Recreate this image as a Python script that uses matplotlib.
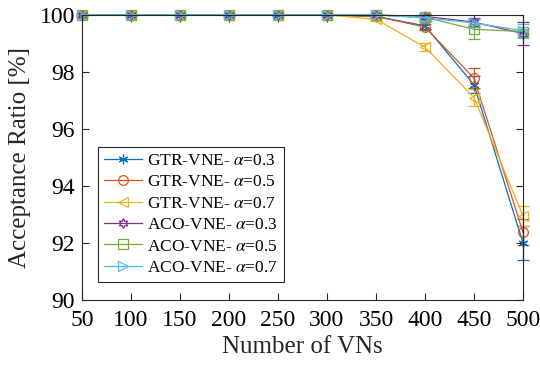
import matplotlib.pyplot as plt
from matplotlib.lines import Line2D
import numpy as np

plt.rcParams['font.family'] = ['Liberation Serif', 'DejaVu Serif']
plt.rcParams['mathtext.fontset'] = 'stix'

vns = [50, 100, 150, 200, 250, 300, 350, 400, 450, 500]

gtr_03 = [100, 100, 100, 100, 100, 100, 99.95, 99.62, 97.55, 92.0]
gtr_05 = [100, 100, 100, 100, 100, 100, 99.95, 99.58, 97.78, 92.38]
gtr_07 = [100, 100, 100, 100, 100, 100, 99.85, 98.87, 97.1, 92.95]
aco_03 = [100, 100, 100, 100, 100, 100, 100, 99.95, 99.75, 99.35]
aco_05 = [100, 100, 100, 100, 100, 100, 100, 99.92, 99.5, 99.42]
aco_07 = [100, 100, 100, 100, 100, 100, 100, 99.9, 99.72, 99.45]

gtr_03_err = [0, 0, 0, 0, 0, 0, 0.03, 0.12, 0.3, 0.6]
gtr_05_err = [0, 0, 0, 0, 0, 0, 0.03, 0.12, 0.35, 0.45]
gtr_07_err = [0, 0, 0, 0, 0, 0, 0.05, 0.15, 0.3, 0.35]
aco_03_err = [0, 0, 0, 0, 0, 0, 0.02, 0.1, 0.15, 0.4]
aco_05_err = [0, 0, 0, 0, 0, 0, 0.02, 0.1, 0.35, 0.1]
aco_07_err = [0, 0, 0, 0, 0, 0, 0.02, 0.1, 0.15, 0.25]

series = [
    (gtr_03, gtr_03_err, '#0072BD', (6, 2, 0), r'GTR-VNE- $\alpha$=0.3'),
    (gtr_05, gtr_05_err, '#D95319', 'o', r'GTR-VNE- $\alpha$=0.5'),
    (gtr_07, gtr_07_err, '#EDB120', '<', r'GTR-VNE- $\alpha$=0.7'),
    (aco_03, aco_03_err, '#7E2F8E', (6, 1, 0), r'ACO-VNE- $\alpha$=0.3'),
    (aco_05, aco_05_err, '#77AC30', 's', r'ACO-VNE- $\alpha$=0.5'),
    (aco_07, aco_07_err, '#4DBEEE', '>', r'ACO-VNE- $\alpha$=0.7'),
]

fig = plt.figure(figsize=(5.4, 3.66), dpi=100)
ax = fig.add_axes([82 / 540, 1 - 300 / 366, 441 / 540, 285 / 366])

handles = []
for y, err, c, m, lab in series:
    ax.errorbar(vns, y, yerr=err, color=c, marker=m, markersize=7,
                markerfacecolor='none', markeredgewidth=0.9, linewidth=0.9,
                capsize=4, elinewidth=0.9, clip_on=False)
    handles.append(Line2D([], [], color=c, marker=m, markersize=7,
                          markerfacecolor='none', markeredgewidth=0.9,
                          linewidth=0.9, label=lab))

ax.set_xlim(50, 500)
ax.set_ylim(90, 100)
ax.set_xticks(np.arange(50, 501, 50))
ax.set_yticks(np.arange(90, 101, 2))
ax.tick_params(direction='in', top=True, right=True, labelsize=17, length=5,
               width=0.8, color='#262626')
ax.tick_params(axis='x', pad=7)
ax.tick_params(axis='y', pad=5)
for s in ax.spines.values():
    s.set_color('#262626')
    s.set_linewidth(0.8)
ax.set_xlabel('Number of VNs', fontsize=18, labelpad=4, color='#262626')
ax.set_ylabel('Acceptance Ratio [%]', fontsize=18, labelpad=6, color='#262626')

leg = ax.legend(handles=handles, loc='lower left',
                bbox_to_anchor=(16 / 441, 18 / 285), fontsize=12.5,
                frameon=True, fancybox=False, edgecolor='#262626', framealpha=1,
                handlelength=2.2, handletextpad=0.3, labelspacing=0.3,
                borderpad=0.35, borderaxespad=0)
leg.get_frame().set_linewidth(0.8)

fig.savefig('out.png', dpi=100)
